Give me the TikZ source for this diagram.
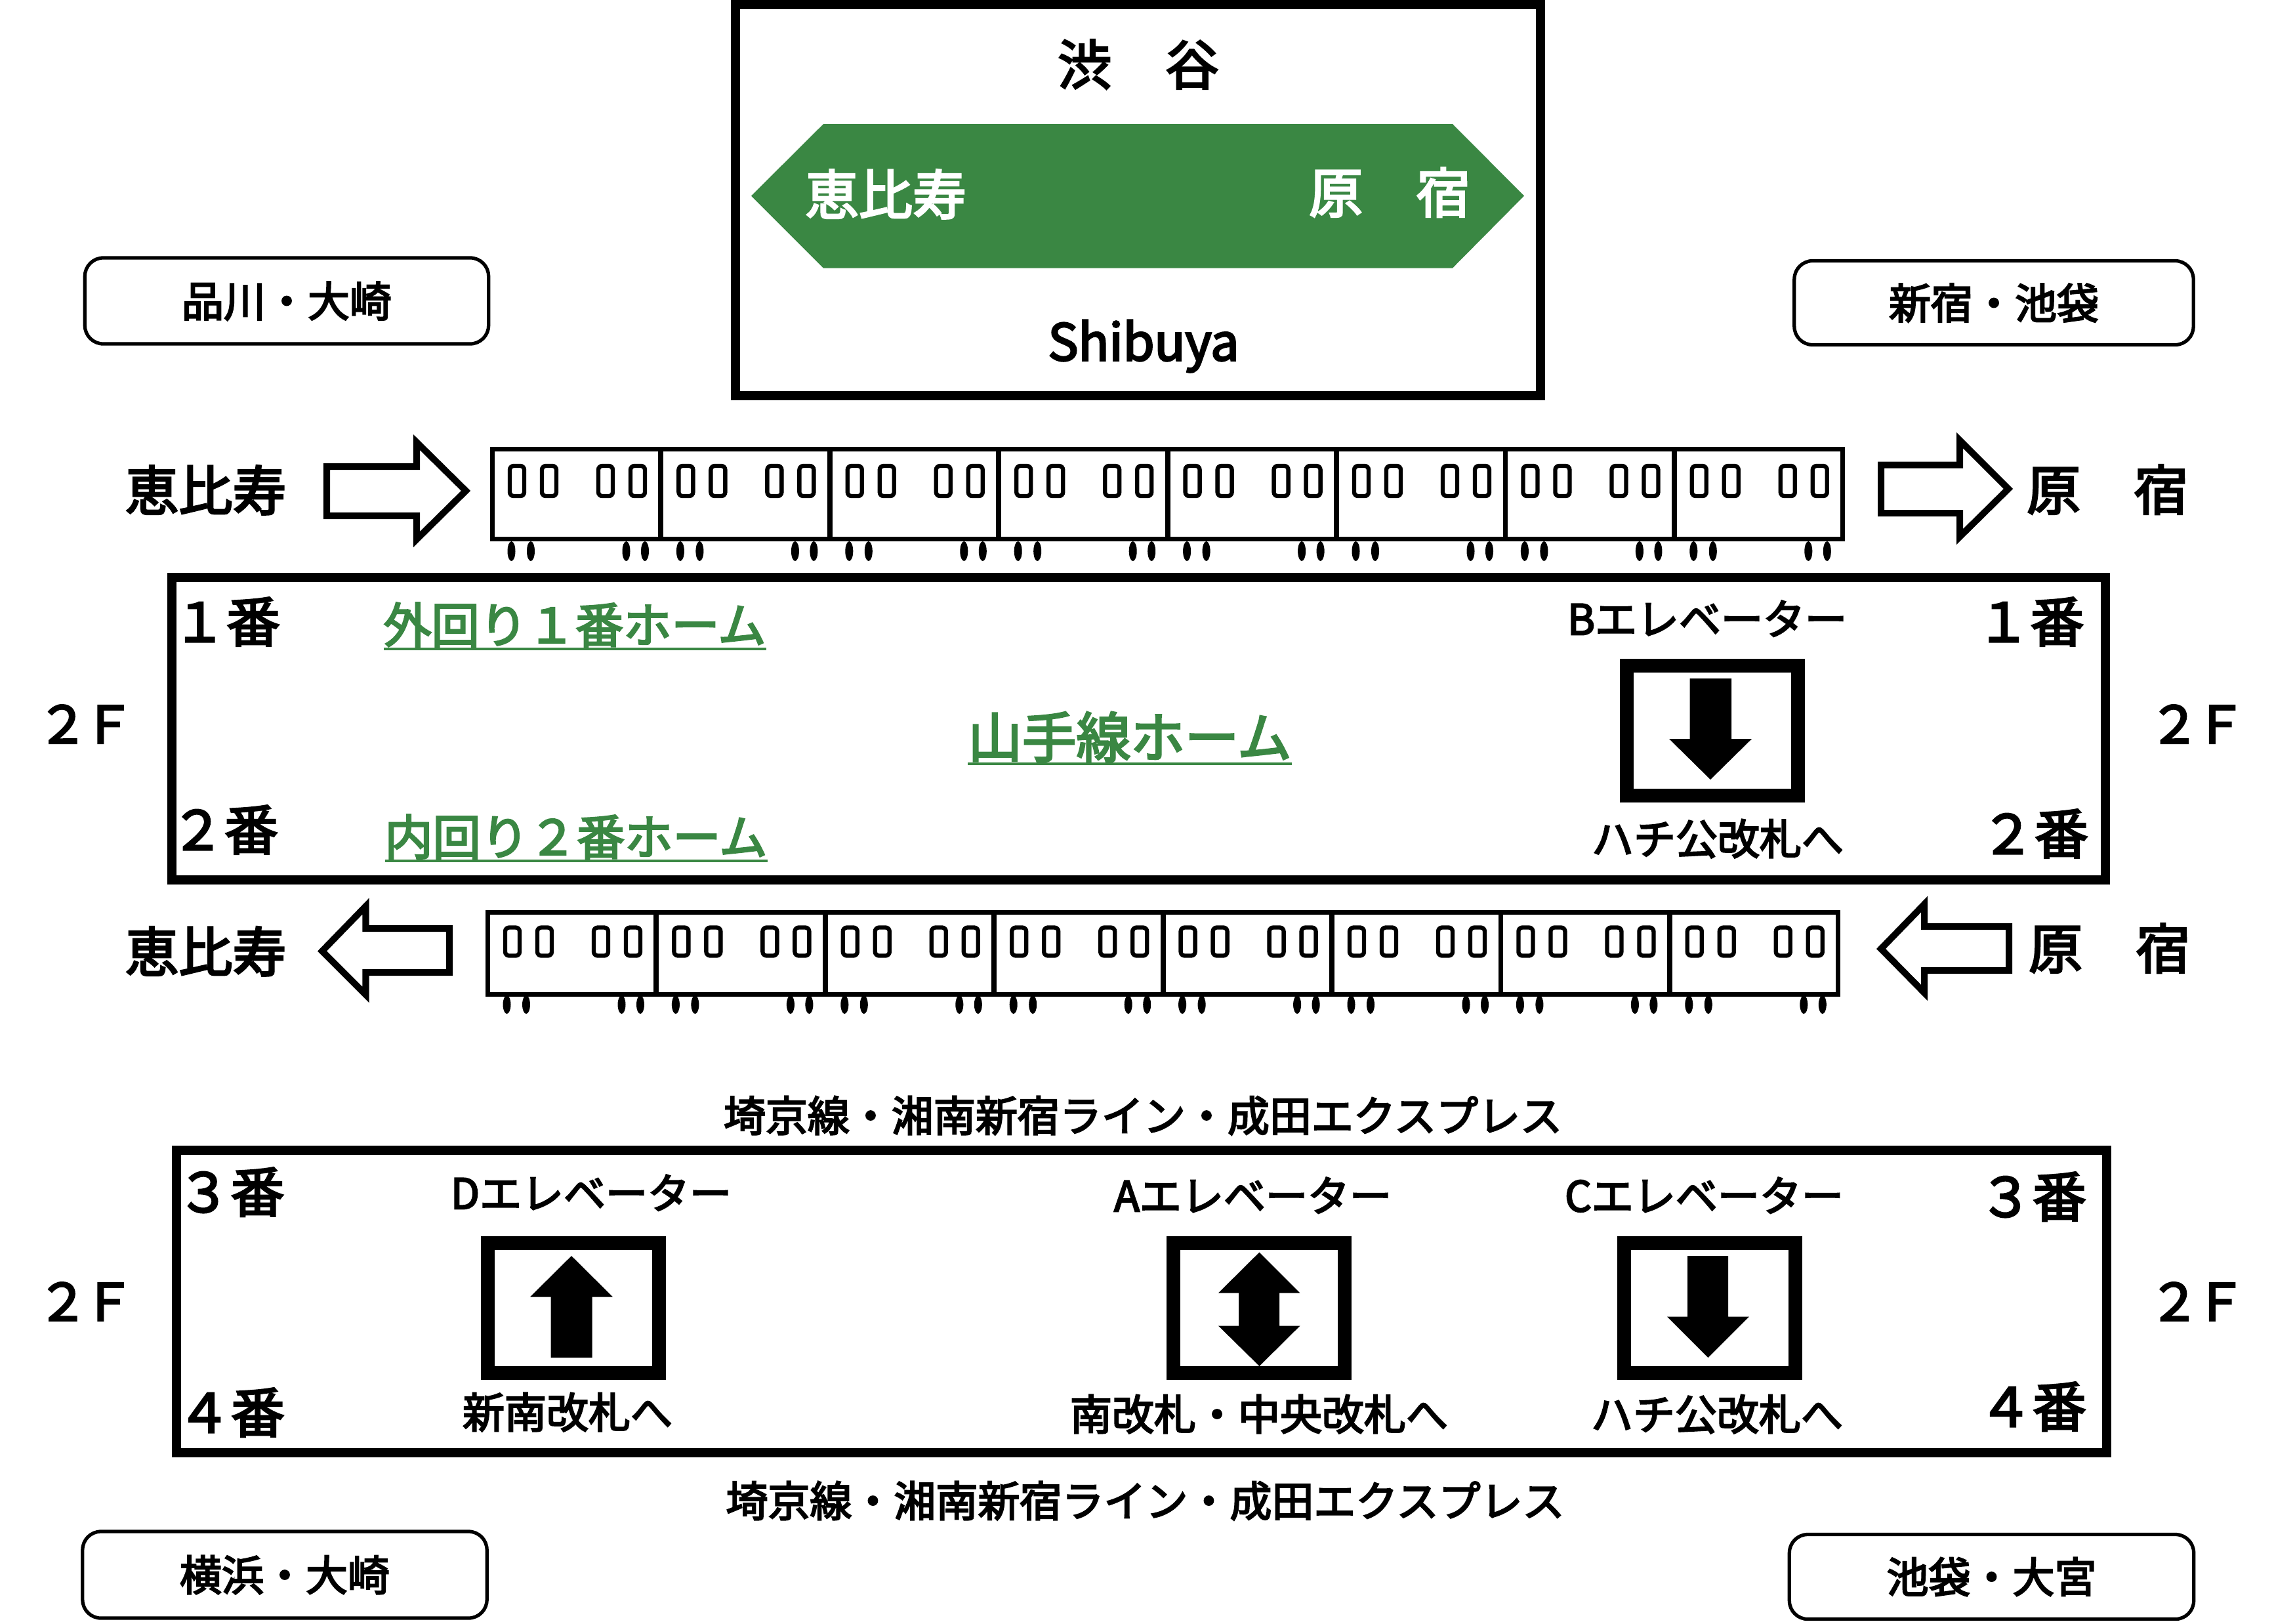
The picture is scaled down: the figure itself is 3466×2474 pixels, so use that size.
\documentclass[tikz,border=0pt]{standalone}
\usepackage{fontspec}
\setmainfont{Noto Sans CJK JP}[FakeBold=3.5]
\definecolor{linegreen}{HTML}{3A8743}
\tikzset{every node/.style={inner sep=0pt, outer sep=0pt}}
\tikzset{jp/.style={font=\fontsize{#1}{#1}\selectfont, text height={0.88*#1 pt}, text depth={0.12*#1 pt}}}
\tikzset{bigtext/.style={jp=23.3}}
\tikzset{floortext/.style={jp=22.2}}
\tikzset{smalltext/.style={jp=18.2}}
\tikzset{hometext/.style={jp=#1, text=linegreen}}
\tikzset{wall/.style={line width=3.98pt}}
\tikzset{carline/.style={line width=2pt}}
\tikzset{winline/.style={line width=1.8pt, rounded corners=1.7pt}}
\tikzset{dirarrow/.style={line width=2.85pt}}
\tikzset{underbar/.style={line width=1.1pt, draw=linegreen}}
\tikzset{routebox/.style={draw, line width=1.5pt, rounded corners=8pt, smalltext}}
\tikzset{liftbox/.style={draw, line width=5.97pt, minimum width=2.61cm, minimum height=1.98cm}}

\begin{document}
\begin{tikzpicture}[x=0.01cm,y=-0.01cm]
		\useasboundingbox (0,0) rectangle (3466,2474);
		% station sign
		\draw[wall] (1120.5,7) rectangle (2348,603);
		\fill[linegreen] (1145,298.5) -- (1255,189) -- (2214,189) -- (2323,298.5) -- (2214,408.5) -- (1255,408.5) -- cycle;
		\node[bigtext] (signname) at (1735,98) {渋　谷};
		\node[bigtext, text=white] (signebisu) at (1350,296) {恵比寿};
		\node[bigtext, text=white] (signhara) at (2118,293) {原　宿};
		\node[jp=22] (signroman) at (1743,520) {Shibuya};
		% route boxes
		\node[routebox, minimum width=6.15cm, minimum height=1.31cm] (shinagawa) at (437,458.5) {品川・大崎};
		\node[routebox, minimum width=6.08cm, minimum height=1.28cm] (shinjuku) at (3039,461.5) {新宿・池袋};
		\node[routebox, minimum width=6.16cm, minimum height=1.32cm] (yokohama) at (434,2400) {横浜・大崎};
		\node[routebox, minimum width=6.16cm, minimum height=1.29cm] (omiya) at (3035.5,2403) {池袋・大宮};
		% trains
		\foreach \trainx/\traintop/\trainbot/\winy/\winh/\wheely/\wheelr in {750.5/684.5/821/733/46/840/15, 743.5/1390/1515/1435/43/1531/14}
		{
			\foreach \car in {0,...,7}
			{
				\pgfmathsetmacro\carx{\trainx+\car*257.4}
				\pgfmathsetmacro\carend{\carx+256.5}
				\draw[carline] (\carx,\traintop) rectangle (\carend,\trainbot);
				\foreach \win in {37.5,86.5,172.5,221.5}
					\draw[winline] (\carx+\win-11,\winy-\winh/2) rectangle (\carx+\win+11,\winy+\winh/2);
				\foreach \wheel in {29,58.5,204,232.5}
					\fill (\carx+\wheel,\wheely) ellipse [x radius=6, y radius=\wheelr];
			}
		}
		% direction arrows
		\draw[dirarrow] (498,711) -- (635,711) -- (635,674) -- (710,748) -- (635,822) -- (635,786) -- (498,786) -- cycle;
		\draw[dirarrow] (2867,708.5) -- (2987,708.5) -- (2987,671) -- (3061,745) -- (2987,818) -- (2987,782) -- (2867,782) -- cycle;
		\draw[dirarrow] (685,1415) -- (557.5,1415) -- (557.5,1381) -- (491,1449.5) -- (557.5,1516) -- (557.5,1482) -- (685,1482) -- cycle;
		\draw[dirarrow] (3062,1412) -- (2933,1412) -- (2933,1378) -- (2867,1446) -- (2933,1513) -- (2933,1479) -- (3062,1479) -- cycle;
		\node[bigtext] (ebisuup) at (313.5,747) {恵比寿};
		\node[bigtext] (haraup) at (3212,746) {原　宿};
		\node[bigtext] (ebisudown) at (313.5,1450) {恵比寿};
		\node[bigtext] (haradown) at (3215,1445) {原　宿};
		% platform 1 and 2
		\draw[wall] (262,880) rectangle (3208.5,1341);
		\node[bigtext] (homeonel) at (345,947) {１番};
		\node[bigtext] (hometwol) at (342,1264) {２番};
		\node[bigtext] (homeoner) at (3094.5,947) {１番};
		\node[bigtext] (hometwor) at (3101,1270) {２番};
		\node[hometext=20.8] (soto) at (876,952) {外回り１番ホーム};
		\node[hometext=20.8] (uchi) at (878,1275) {内回り２番ホーム};
		\node[hometext=23.5] (yamanote) at (1722,1123) {山手線ホーム};
		\draw[underbar] (soto.south west) -- (soto.south east);
		\draw[underbar] (uchi.south west) -- (uchi.south east);
		\draw[underbar] (yamanote.south west) -- (yamanote.south east);
		\node[floortext] (floorupl) at (130.5,1103) {２\kern-2.3pt Ｆ};
		\node[floortext] (floorupr) at (3349,1103) {２\kern-2.3pt Ｆ};
		% lift B
		\node[smalltext] (liftbname) at (2602,943) {Bエレベーター};
		\node[liftbox] (liftb) at (2610,1113.5) {};
		\fill (2575.5,1034) -- (2639,1034) -- (2639,1126) -- (2670,1126) -- (2607,1188) -- (2544,1126) -- (2575.5,1126) -- cycle;
		\node[smalltext] (hachiup) at (2618,1278) {ハチ公改札へ};
		% platform 3 and 4
		\node[smalltext] (saikyoup) at (1742,1700) {埼京線・湘南新宿ライン・成田エクスプレス};
		\node[smalltext] (saikyodown) at (1745.5,2287) {埼京線・湘南新宿ライン・成田エクスプレス};
		\draw[wall] (268.7,1752.7) rectangle (3211,2214);
		\node[bigtext] (homethreel) at (351.5,1816) {３番};
		\node[bigtext] (homefourl) at (352,2152) {４番};
		\node[bigtext] (homethreer) at (3098,1823) {３番};
		\node[bigtext] (homefourr) at (3098,2143) {４番};
		\node[floortext] (floordownl) at (130.5,1983) {２\kern-2.3pt Ｆ};
		\node[floortext] (floordownr) at (3349,1983) {２\kern-2.3pt Ｆ};
		% lift D
		\node[smalltext] (liftdname) at (901,1818) {Dエレベーター};
		\node[liftbox] (liftd) at (874,1993.5) {};
		\fill (871,1914) -- (934,1976.5) -- (902.5,1976.5) -- (902.5,2069) -- (839.5,2069) -- (839.5,1976.5) -- (808,1976.5) -- cycle;
		\node[smalltext] (shinminami) at (865,2152) {新南改札へ};
		% lift A
		\node[smalltext] (liftaname) at (1909.5,1822) {Aエレベーター};
		\node[liftbox] (lifta) at (1919,1993.5) {};
		\fill (1919.5,1908.5) -- (1981.5,1970.5) -- (1950,1970.5) -- (1950,2020.5) -- (1981.5,2020.5) -- (1919.5,2082) -- (1857,2020.5) -- (1888,2020.5) -- (1888,1970.5) -- (1857,1970.5) -- cycle;
		\node[smalltext] (minami) at (1919,2155) {南改札・中央改札へ};
		% lift C
		\node[smalltext] (liftcname) at (2597.5,1822) {Cエレベーター};
		\node[liftbox] (liftc) at (2606,1993.5) {};
		\fill (2572,1914) -- (2634,1914) -- (2634,2006.5) -- (2666,2006.5) -- (2603.5,2069) -- (2541,2006.5) -- (2572,2006.5) -- cycle;
		\node[smalltext] (hachidown) at (2617,2155) {ハチ公改札へ};
		\end{tikzpicture}
\end{document}
